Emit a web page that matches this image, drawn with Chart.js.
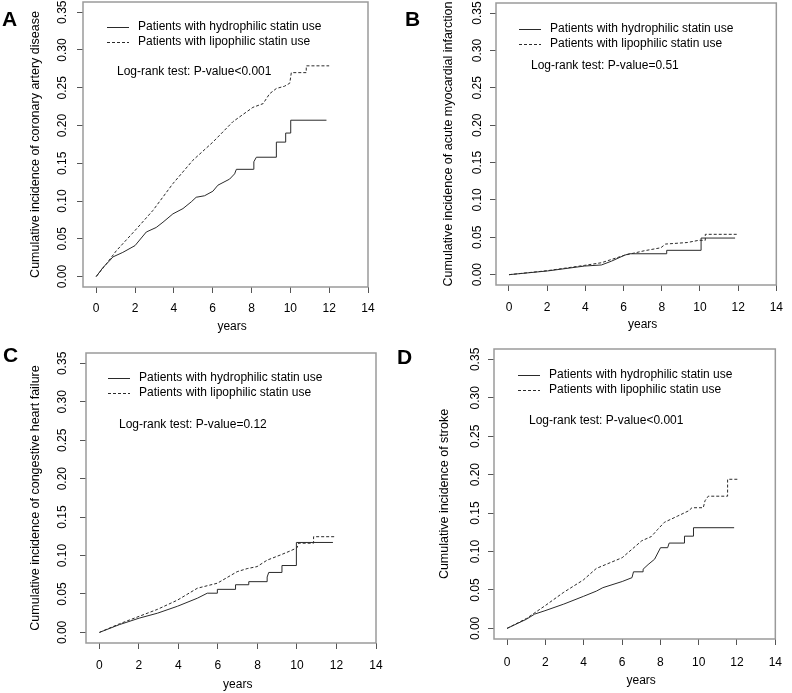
<!DOCTYPE html>
<html>
<head>
<meta charset="utf-8">
<script src="https://cdn.jsdelivr.net/npm/chart.js@4.4.1/dist/chart.umd.min.js"></script>
<style>
  html, body { margin: 0; padding: 0; background: #fff; }
  #wrap { position: relative; width: 792px; height: 693px; overflow: hidden; }
  #wrap canvas { position: absolute; left: 0; top: 0; }
</style>
</head>
<body>
<div id="wrap">
  <canvas id="chartA" width="792" height="693"></canvas>
  <canvas id="chartB" width="792" height="693"></canvas>
  <canvas id="chartC" width="792" height="693"></canvas>
  <canvas id="chartD" width="792" height="693"></canvas>
</div>
<script>
// --- data: [years, cumulative incidence] ---
const xTicks = [0, 2, 4, 6, 8, 10, 12, 14];
const yTicks = [0, 0.05, 0.10, 0.15, 0.20, 0.25, 0.30, 0.35];
const legendLabels = ['Patients with hydrophilic statin use', 'Patients with lipophilic statin use'];

// A: coronary artery disease
const cadHydro = [[0,0],[0.35,0.012],[0.69,0.021],[0.86,0.026],[1.37,0.032],[2.0,0.041],[2.58,0.059],[3.09,0.065],
  [3.44,0.072],[3.95,0.083],[4.47,0.090],[4.9,0.099],[5.15,0.105],[5.58,0.107],[6.01,0.113],[6.27,0.121],
  [6.87,0.129],[7.13,0.136],[7.22,0.142],[8.1,0.142],[8.12,0.152],[8.25,0.158],[9.28,0.158],[9.28,0.178],
  [9.76,0.178],[9.76,0.190],[10.02,0.190],[10.02,0.207],[11.86,0.207]];
const cadLipo = [[0,0],[0.5,0.016],[1.03,0.034],[2.0,0.061],[2.92,0.0875],[3.95,0.123],[4.98,0.154],[6.01,0.178],
  [7.04,0.205],[8.07,0.224],[8.6,0.229],[8.93,0.242],[9.28,0.249],[9.7,0.252],[9.97,0.256],[10.05,0.270],
  [10.82,0.270],[10.82,0.279],[12.0,0.279]];

// B: acute myocardial infarction
const amiHydro = [[0,0],[2.02,0.005],[3.97,0.0116],[4.84,0.013],[5.36,0.018],[6.05,0.026],[6.3,0.028],[8.26,0.028],
  [8.26,0.0326],[10.06,0.0326],[10.06,0.049],[11.84,0.049]];
const amiLipo = [[0,0],[2.02,0.0054],[3.97,0.0125],[4.84,0.016],[6.05,0.026],[7.08,0.032],[7.95,0.036],[8.2,0.041],
  [9.33,0.043],[9.94,0.046],[10.28,0.046],[10.28,0.054],[11.93,0.054]];

// C: congestive heart failure
const chfHydro = [[0,0],[1.0,0.010],[2.02,0.0186],[2.94,0.025],[3.95,0.034],[4.96,0.0445],[5.46,0.051],[5.97,0.051],
  [5.97,0.056],[6.89,0.056],[6.89,0.062],[7.56,0.062],[7.56,0.066],[8.49,0.066],[8.49,0.072],[8.57,0.078],
  [9.24,0.078],[9.24,0.087],[9.97,0.087],[9.97,0.117],[11.82,0.117]];
const chfLipo = [[0,0],[1.0,0.011],[2.02,0.021],[2.94,0.030],[3.95,0.042],[4.96,0.0575],[5.97,0.064],[6.97,0.079],
  [7.48,0.083],[7.98,0.0856],[8.49,0.094],[9.16,0.1007],[9.66,0.106],[10.0,0.110],[10.08,0.116],[10.84,0.116],
  [10.84,0.1245],[11.93,0.1245]];

// D: stroke
const strokeHydro = [[0,0],[1.02,0.012],[1.44,0.0186],[1.98,0.023],[2.96,0.0316],[3.98,0.0416],[4.66,0.0485],
  [5.0,0.053],[6.01,0.061],[6.52,0.066],[6.6,0.0736],[7.1,0.0736],[7.1,0.077],[7.36,0.083],[7.7,0.090],
  [8.01,0.105],[8.38,0.105],[8.46,0.111],[9.26,0.111],[9.26,0.120],[9.73,0.120],[9.73,0.131],[11.85,0.131]];
const strokeLipo = [[0,0],[1.02,0.013],[1.98,0.0294],[2.96,0.047],[3.98,0.063],[4.66,0.078],[6.01,0.092],[7.03,0.114],
  [7.53,0.1195],[7.87,0.129],[8.21,0.138],[8.89,0.146],[9.48,0.153],[9.65,0.157],[10.24,0.157],[10.33,0.166],
  [10.5,0.172],[11.51,0.172],[11.51,0.194],[12.02,0.194]];

// --- panel layout (box = plot frame in page pixels) ---
const panels = [
  { id: 'chartA', letter: 'A', yTitle: 'Cumulative incidence of coronary artery disease', pText: 'Log-rank test: P-value<0.001',
    hydro: cadHydro, lipo: cadLipo, box: { l: 83, t: 2, r: 368, b: 287 },
    letterPos: [2, 20], yTitleX: 36, yTickX: 63, xTickGap: 21, xTitleGap: 40, legX: 107, legY: 27, pPos: [117, 72] },
  { id: 'chartB', letter: 'B', yTitle: 'Cumulative incidence of acute myocardial infarction', pText: 'Log-rank test: P-value=0.51',
    hydro: amiHydro, lipo: amiLipo, box: { l: 496, t: 3, r: 780, b: 285 },
    letterPos: [405, 20], yTitleX: 449, yTickX: 478, xTickGap: 22, xTitleGap: 40, legX: 519, legY: 29, pPos: [531, 66] },
  { id: 'chartC', letter: 'C', yTitle: 'Cumulative incidence of congestive heart failure', pText: 'Log-rank test: P-value=0.12',
    hydro: chfHydro, lipo: chfLipo, box: { l: 86, t: 353, r: 376, b: 643 },
    letterPos: [3, 356], yTitleX: 36, yTickX: 63, xTickGap: 22, xTitleGap: 42, legX: 108, legY: 378, pPos: [119, 425] },
  { id: 'chartD', letter: 'D', yTitle: 'Cumulative incidence of stroke', pText: 'Log-rank test: P-value<0.001',
    hydro: strokeHydro, lipo: strokeLipo, box: { l: 494, t: 349, r: 784, b: 639 },
    letterPos: [397, 358], yTitleX: 445, yTickX: 476, xTickGap: 23, xTitleGap: 42, legX: 518, legY: 375, pPos: [529, 421] }
];

const FONT = '"Liberation Sans", Arial, sans-serif';
const LINE = '#2a2a2a';

// draws frame, rotated y labels, titles, legend and annotation
const panelDecor = {
  id: 'panelDecor',
  beforeDatasetsDraw(chart) {
    const a = chart.chartArea, ctx = chart.ctx;
    ctx.save();
    ctx.strokeStyle = '#9a9a9a';
    ctx.lineWidth = 1.5;
    ctx.strokeRect(a.left, a.top, a.right - a.left, a.bottom - a.top);
    ctx.restore();
  },
  afterDraw(chart) {
    const p = chart.options.plugins.panelDecor.panel;
    const a = chart.chartArea, ctx = chart.ctx, ys = chart.scales.y;
    ctx.save();
    ctx.fillStyle = '#000';

    // y tick labels, rotated like R
    ctx.font = '12px ' + FONT;
    ctx.textAlign = 'center';
    ctx.textBaseline = 'middle';
    yTicks.forEach(v => {
      ctx.save();
      ctx.translate(p.yTickX, ys.getPixelForValue(v));
      ctx.rotate(-Math.PI / 2);
      ctx.fillText(v.toFixed(2), 0, 0);
      ctx.restore();
    });

    // y title
    ctx.save();
    ctx.font = '12.5px ' + FONT;
    ctx.translate(p.yTitleX, (a.top + a.bottom) / 2);
    ctx.rotate(-Math.PI / 2);
    ctx.fillText(p.yTitle, 0, 0);
    ctx.restore();

    // x title
    ctx.fillText('years', chart.scales.x.getPixelForValue(7), a.bottom + p.xTitleGap);

    // legend
    ctx.textAlign = 'left';
    [0, 1].forEach(i => {
      const y = p.legY + i * 15;
      ctx.save();
      ctx.strokeStyle = LINE;
      ctx.lineWidth = 1;
      ctx.setLineDash(i === 0 ? [] : [3, 2]);
      ctx.beginPath();
      ctx.moveTo(p.legX, y + 0.5);
      ctx.lineTo(p.legX + 22, y + 0.5);
      ctx.stroke();
      ctx.restore();
      ctx.fillText(legendLabels[i], p.legX + 31, y);
    });

    ctx.fillText(p.pText, p.pPos[0], p.pPos[1]);

    // panel letter
    ctx.font = 'bold 21px ' + FONT;
    ctx.fillText(p.letter, p.letterPos[0], p.letterPos[1]);
    ctx.restore();
  }
};

panels.forEach(p => {
  const toPts = arr => arr.map(d => ({ x: d[0], y: d[1] }));
  new Chart(document.getElementById(p.id), {
    type: 'line',
    data: {
      datasets: [
        { label: legendLabels[0], data: toPts(p.hydro), borderColor: LINE, borderWidth: 1, pointRadius: 0, tension: 0 },
        { label: legendLabels[1], data: toPts(p.lipo), borderColor: LINE, borderWidth: 1, borderDash: [3, 2], pointRadius: 0, tension: 0 }
      ]
    },
    options: {
      responsive: false,
      animation: false,
      events: [],
      layout: { padding: { left: p.box.l - 40, top: p.box.t, right: 792 - p.box.r, bottom: 693 - p.box.b - 40 } },
      plugins: {
        legend: { display: false },
        tooltip: { enabled: false },
        panelDecor: { panel: p }
      },
      scales: {
        x: {
          type: 'linear', min: -0.68, max: 14,
          afterFit: s => { s.height = 40; },
          afterBuildTicks: s => { s.ticks = xTicks.map(v => ({ value: v })); },
          border: { display: false },
          grid: { drawOnChartArea: false, drawTicks: true, tickLength: 6, color: '#555' },
          ticks: { color: '#000', font: { family: FONT, size: 12 }, padding: p.xTickGap - 13, maxRotation: 0, autoSkip: false }
        },
        y: {
          type: 'linear', min: -0.0138, max: 0.3635,
          afterFit: s => { s.width = 40; },
          afterBuildTicks: s => { s.ticks = yTicks.map(v => ({ value: v })); },
          border: { display: false },
          grid: { drawOnChartArea: false, drawTicks: true, tickLength: 6, color: '#555' },
          ticks: { display: false }
        }
      }
    },
    plugins: [panelDecor]
  });
});
</script>
</body>
</html>
